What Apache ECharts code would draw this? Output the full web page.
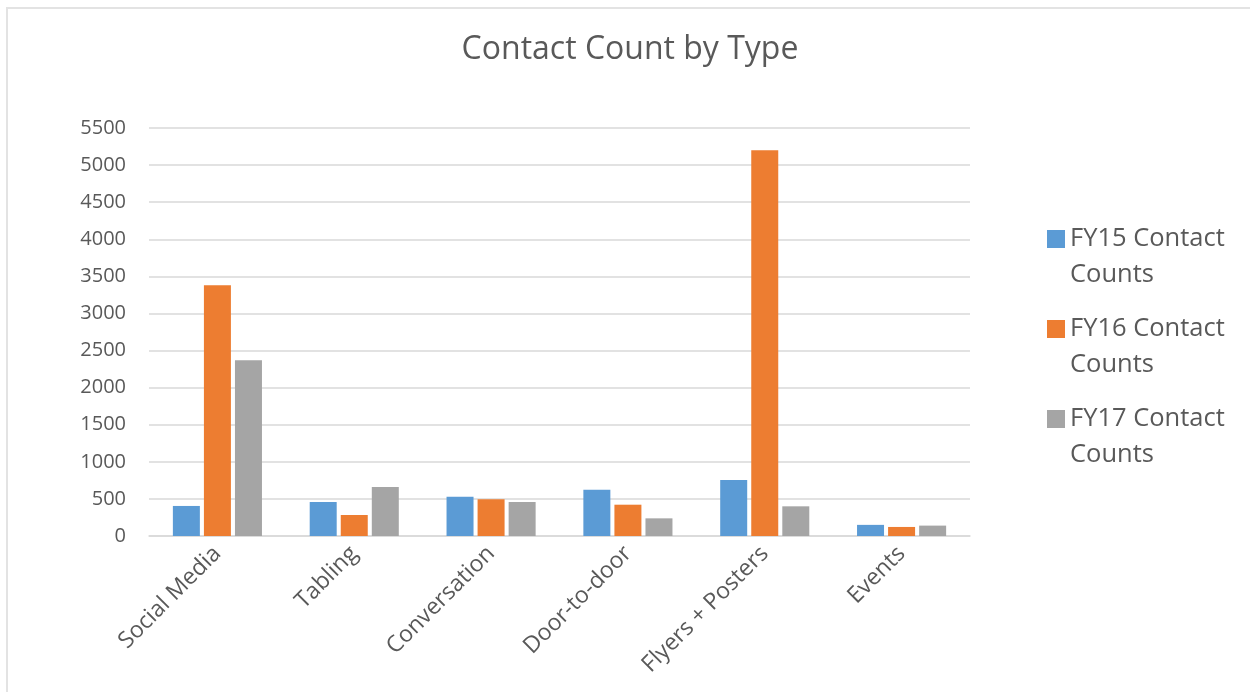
<!DOCTYPE html>
<html>
<head>
<meta charset="utf-8">
<script src="https://cdn.jsdelivr.net/npm/echarts@6/dist/echarts.min.js"></script>
<style>
  html, body { margin: 0; padding: 0; background: #ffffff; overflow: hidden; }
  #frame { position: absolute; left: 6px; top: 7px; width: 1400px; height: 900px; border-top: 2px solid #e3e3e3; border-left: 2px solid #e3e3e3; box-sizing: border-box; }
  #chart { position: absolute; left: 0; top: 0; width: 1250px; height: 692px; }
</style>
</head>
<body>
<div id="frame"></div>
<div id="chart"></div>
<script>
const categories = ['Social Media', 'Tabling', 'Conversation', 'Door-to-door', 'Flyers + Posters', 'Events'];
const seriesNames = ['FY15 Contact Counts', 'FY16 Contact Counts', 'FY17 Contact Counts'];
const fy15 = [405, 458, 530, 624, 755, 150];
const fy16 = [3380, 283, 494, 422, 5200, 122];
const fy17 = [2370, 660, 458, 238, 400, 140];
const yTicks = { min: 0, max: 5500, interval: 500 };
const colors = ['#5B9BD5', '#ED7D31', '#A5A5A5'];

const FONT = '"Open Sans", "Liberation Sans", sans-serif';
const TXT = '#595959';

const chart = echarts.init(document.getElementById('chart'), null, { renderer: 'canvas' });

const values = [fy15, fy16, fy17];
const series = seriesNames.map((name, i) => ({
  name: name,
  type: 'bar',
  data: values[i],
  barWidth: 27,
  barGap: '15%',
  itemStyle: { color: colors[i] },
  emphasis: { disabled: true }
}));

chart.setOption({
  backgroundColor: 'transparent',
  animation: false,
  color: colors,
  title: {
    text: 'Contact Count by Type',
    left: 625,
    textAlign: 'center',
    top: 29,
    textStyle: { fontFamily: FONT, fontSize: 32, fontWeight: 'normal', color: TXT }
  },
  legend: {
    orient: 'vertical',
    left: 1047,
    top: 185,
    padding: 0,
    itemWidth: 18,
    itemHeight: 18,
    itemGap: -18,
    icon: 'rect',
    data: seriesNames,
    formatter: function (name) {
      const parts = name.split(' ');
      return ' \n' + parts[0] + ' ' + parts[1] + '\n' + parts[2];
    },
    textStyle: { fontFamily: FONT, fontSize: 25.5, color: TXT, lineHeight: 36 }
  },
  grid: { left: 149, right: 280, top: 128, bottom: 156, containLabel: false },
  xAxis: {
    type: 'category',
    data: categories,
    axisLine: { show: true, lineStyle: { color: '#d9d9d9', width: 1.5 } },
    axisTick: { show: false },
    axisLabel: {
      rotate: 45, interval: 0, margin: 14,
      fontFamily: FONT, fontSize: 23, color: TXT
    }
  },
  yAxis: {
    type: 'value',
    min: yTicks.min, max: yTicks.max, interval: yTicks.interval,
    axisLine: { show: false },
    axisTick: { show: false },
    splitLine: { lineStyle: { color: '#d9d9d9', width: 1.5 } },
    axisLabel: {
      margin: 23, fontFamily: FONT, fontSize: 20, color: TXT,
      formatter: function (v) { return String(v); }
    }
  },
  series: series
});
</script>
</body>
</html>
